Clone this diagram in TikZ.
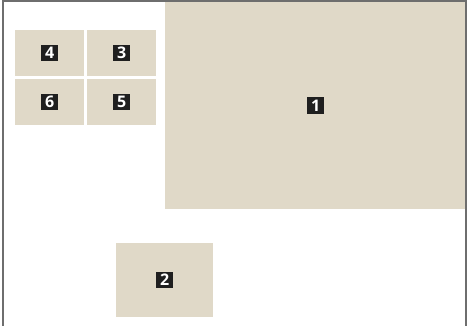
\documentclass[tikz,border=0pt]{standalone}
\usepackage{fontspec}
\setsansfont{Open Sans}
\usepackage{xcolor}
\definecolor{panelfill}{HTML}{E0D9C8}
\definecolor{framegray}{HTML}{6E6E6E}
\usepackage{tikz}

\begin{document}
\begin{tikzpicture}[
    x=1pt, y=-1pt,
    panel/.style={fill=panelfill, draw=none, inner sep=0pt, anchor=north west},
    num/.style={fill=black!88, text=white, inner sep=0pt, minimum size=16.5pt, font=\sffamily\bfseries\fontsize{16}{16}\selectfont},
    edge/.style={draw=framegray, line width=2pt}
]
\useasboundingbox (0,0) rectangle (468,326);

% Panels
\node[panel, minimum width=301pt, minimum height=207pt] (p1) at (165,2) {};
\node[panel, minimum width=97pt, minimum height=74pt] (p2) at (116,243) {};
\node[panel, minimum width=69pt, minimum height=46pt] (p4) at (15,30) {};
\node[panel, minimum width=69pt, minimum height=46pt] (p3) at (87,30) {};
\node[panel, minimum width=69pt, minimum height=46pt] (p6) at (15,79) {};
\node[panel, minimum width=69pt, minimum height=46pt] (p5) at (87,79) {};

% Numbers
\node[num] (n1) at (p1.center) {1};
\node[num] (n2) at (p2.center) {2};
\node[num] (n3) at (p3.center) {3};
\node[num] (n4) at (p4.center) {4};
\node[num] (n5) at (p5.center) {5};
\node[num] (n6) at (p6.center) {6};

% Frame
\draw[edge] (2.5,326) -- (2.5,1) -- (466,1) -- (466,326);

\end{tikzpicture}
\end{document}
